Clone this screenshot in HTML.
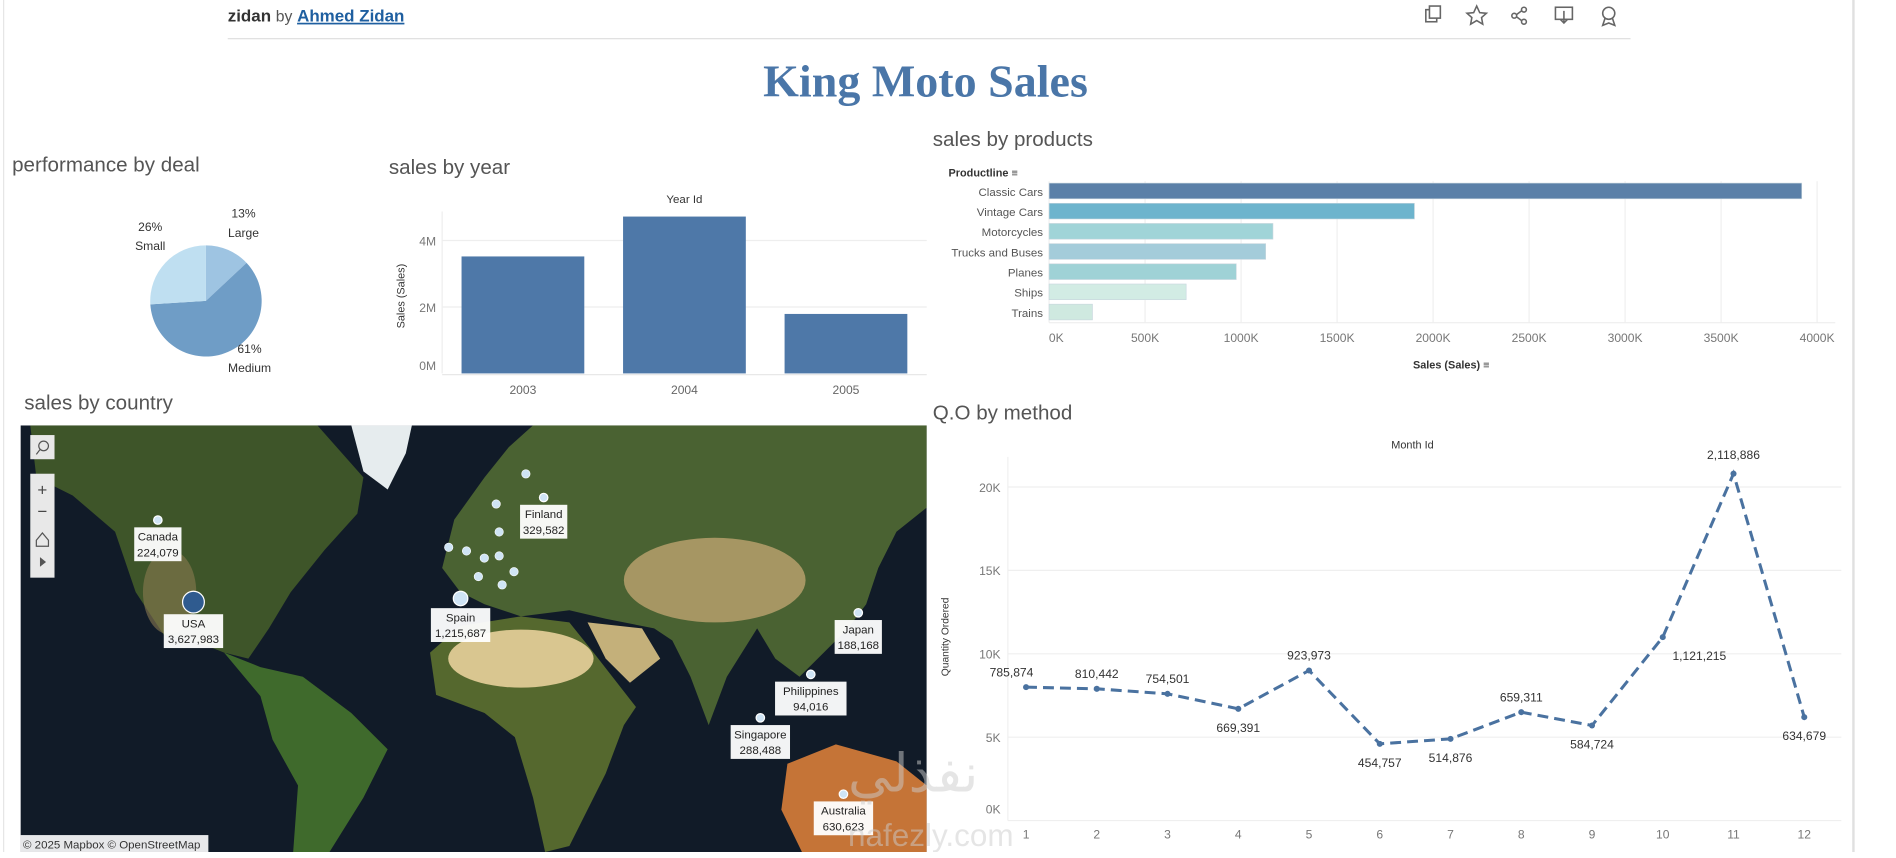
<!DOCTYPE html>
<html><head><meta charset="utf-8"><style>
html,body{margin:0;padding:0;background:#fff;overflow:hidden}
#wrap{position:absolute;left:0;top:0;width:1545px;height:705px;transform-origin:0 0;transform:scale(1.2114,1.2085);font-family:"Liberation Sans",sans-serif}
svg text{font-family:"Liberation Sans",sans-serif}
</style></head><body>
<div id="wrap">
<svg id="s" width="1545" height="705" viewBox="0 0 1545 705" xmlns="http://www.w3.org/2000/svg">
<line x1="3" y1="0" x2="3" y2="705" stroke="#e6e6e6"/>
<line x1="1530" y1="0" x2="1530" y2="705" stroke="#e0e0e0" stroke-width="2"/>
<text x="188" y="18" font-size="14" font-weight="bold" fill="#333">zidan <tspan font-weight="normal" fill="#555" font-size="13">by</tspan> <tspan fill="#1f5fa0" text-decoration="underline">Ahmed Zidan</tspan></text>
<line x1="188" y1="32" x2="1346" y2="32" stroke="#ddd"/>
<g fill="none" stroke="#666" stroke-width="1.3">
<rect x="1177" y="8" width="9" height="10"/><rect x="1180" y="5" width="9" height="10" fill="#fff"/>
<polygon points="1219,5 1221.5,10.5 1227,11 1223,14.5 1224,20 1219,17 1214,20 1215,14.5 1211,11 1216.5,10.5"/>
<g><circle cx="1250" cy="13" r="2"/><circle cx="1258" cy="8" r="2"/><circle cx="1258" cy="18" r="2"/><line x1="1252" y1="12" x2="1256" y2="9"/><line x1="1252" y1="14" x2="1256" y2="17"/></g>
<g><rect x="1284" y="6" width="14" height="10"/><line x1="1291" y1="9" x2="1291" y2="19"/><polyline points="1288,16 1291,19 1294,16"/></g>
<g><circle cx="1328" cy="11" r="5"/><polyline points="1325,15 1323,21 1328,19 1333,21 1331,15"/></g>
</g>
<text x="764" y="80" text-anchor="middle" font-size="38" font-weight="bold" fill="#4a76a8" style="font-family:'Liberation Serif',serif">King Moto Sales</text>

<text x="10" y="142" font-size="17" fill="#555">performance by deal</text>
<g id="pie"></g>

<text x="321" y="144" font-size="17" fill="#555">sales by year</text>
<g id="yr"></g>

<text x="770" y="121" font-size="17" fill="#555">sales by products</text>
<g id="pr"></g>

<text x="770" y="347" font-size="17" fill="#555">Q.O by method</text>
<g id="ln"></g>

<text x="20" y="339" font-size="17" fill="#555">sales by country</text>
<g>
<clipPath id="mc"><rect x="17" y="352" width="748" height="353"/></clipPath>
<g clip-path="url(#mc)">
<rect x="17" y="352" width="748" height="353" fill="#111b28"/>
<polygon fill="#3e5529" points="25,352 262,352 300,395 295,425 268,455 240,490 222,520 205,545 185,540 160,530 135,525 112,490 95,440 60,410 30,395"/>
<ellipse cx="140" cy="490" rx="22" ry="35" fill="#8a7a50" opacity="0.6"/>
<polygon fill="#e6ecee" points="290,352 340,352 335,375 320,405 300,390"/>
<polygon fill="#3f6a2c" points="185,540 215,552 250,560 290,590 320,620 300,660 272,705 242,705 246,650 225,612 215,576"/>
<polygon fill="#55682e" points="355,540 380,518 430,510 470,515 490,540 525,585 515,600 500,640 470,700 450,705 440,660 425,610 400,590 360,575"/>
<ellipse cx="430" cy="545" rx="60" ry="24" fill="#d9c690"/>
<polygon fill="#4a6232" points="365,470 375,430 400,395 420,370 440,352 765,352 765,420 740,440 725,470 715,500 700,520 680,540 660,560 640,545 625,520 600,560 585,600 570,560 555,530 540,520 500,512 470,505 430,510 400,500 380,490"/>
<ellipse cx="590" cy="480" rx="75" ry="35" fill="#b6a06c" opacity="0.85"/>
<polygon fill="#c4b07a" points="485,515 530,520 545,545 520,565 500,545"/>
<polygon fill="#c57437" points="650,632 690,616 740,630 765,650 765,705 662,705 645,670"/>
</g>
<g>
<rect x="25" y="360" width="20" height="20" fill="#e8e8e8"/>
<circle cx="36" cy="369" r="4" fill="none" stroke="#555"/><line x1="33" y1="372" x2="30" y2="376" stroke="#555"/>
<rect x="25" y="392" width="20" height="86" fill="#e8e8e8"/>
<text x="35" y="410" font-size="14" text-anchor="middle" fill="#444">+</text><text x="35" y="428" font-size="14" text-anchor="middle" fill="#444">−</text>
<path d="M30 447 L35 441 L40 447 L40 452 L30 452 Z" fill="none" stroke="#555"/>
<polygon points="33,461 38,465 33,469" fill="#555"/>
</g>
<g id="mk"></g>
<rect x="17" y="691" width="155" height="14" fill="#fff" opacity="0.9"/>
<text x="19" y="702" font-size="9.5" fill="#333">© 2025 Mapbox  © OpenStreetMap</text>
</g>
<text x="700" y="655" font-size="44" fill="#ccc" opacity="0.5" style="font-family:'DejaVu Sans',sans-serif">نفذلي</text>
<text x="700" y="700" font-size="26" fill="#ccc" opacity="0.5">nafezly.com</text>
</svg></div>
<script>
const NS="http://www.w3.org/2000/svg";
function mk(p,t,a,txt){const e=document.createElementNS(NS,t);for(const k in a)e.setAttribute(k,a[k]);if(txt!==undefined)e.textContent=txt;p.appendChild(e);return e;}

// ---- pie data
const dealNames=["Large","Medium","Small"];
const dealShares=[13,61,26];
const dealColors=["#9ec4e2","#6f9dc6","#bfdff1"];
// ---- year data
const years=["2003","2004","2005"];
const yearSales=[3.52,4.72,1.79];
const yearTicks=[0,2,4];
// ---- products data
const products=["Classic Cars","Vintage Cars","Motorcycles","Trucks and Buses","Planes","Ships","Trains"];
const productSales=[3920,1903,1166,1128,975,714,226];
const productColors=["#5b80a8","#6db4cd","#a0d4d8","#a4ccda","#9fd2d6","#d2ece4","#cfe9e0"];
const productTicks=[0,500,1000,1500,2000,2500,3000,3500,4000];
// ---- line data
const months=[1,2,3,4,5,6,7,8,9,10,11,12];
const qtyK=[8.0,7.9,7.6,6.7,9.0,4.6,4.9,6.5,5.7,11.0,20.8,6.2];
const monthLabels=["785,874","810,442","754,501","669,391","923,973","454,757","514,876","659,311","584,724","1,121,215","2,118,886","634,679"];
const labelPos=["up","up","up","down","up","down","down","up","down","right","up","down"];
const qtyTicks=[0,5,10,15,20];
// ---- map data
const countries=["Canada","USA","Finland","Spain","Japan","Philippines","Singapore","Australia"];
const countrySales=["224,079","3,627,983","329,582","1,215,687","188,168","94,016","288,488","630,623"];
const countryLon=[-106,-94,24,-4,130,114,97,125];
const countryLat=[58,39,62,40,36,16.5,1.3,-25];
const euroLon=[8,9,-2,4,2,9,14,10,18,-8];
const euroLat=[60.9,55.7,51.7,50.1,45.7,50.6,46.9,43.6,65.7,52.5];

// pie
(function(){const g=document.getElementById('pie');const cx=170,cy=249,r=46;let a=0;
const lab=[[201,180,"13%","Large"],[206,292,"61%","Medium"],[124,191,"26%","Small"]];
dealShares.forEach((v,i)=>{const a0=a,a1=a+v/100*2*Math.PI;a=a1;
const x0=cx+r*Math.sin(a0),y0=cy-r*Math.cos(a0),x1=cx+r*Math.sin(a1),y1=cy-r*Math.cos(a1);
const p=mk(g,'path',{d:`M${cx} ${cy}L${x0} ${y0}A${r} ${r} 0 ${a1-a0>Math.PI?1:0} 1 ${x1} ${y1}Z`,fill:dealColors[i]});


const t=mk(g,'text',{x:lab[i][0],y:lab[i][1],'font-size':10,'text-anchor':'middle',fill:'#333'},dealShares[i]+'%');


const t2=mk(g,'text',{x:lab[i][0],y:lab[i][1]+16,'font-size':10,'text-anchor':'middle',fill:'#333'},dealNames[i]);

});})();

// year bars
(function(){const g=document.getElementById('yr');const x0=365,x1=765,base=309,pxPer=27.5;
const y=v=>base-v*pxPer;const bw=(x1-x0)/years.length;
mk(g,'line',{x1:x0,y1:175,x2:x0,y2:base,stroke:'#eee'});
mk(g,'line',{x1:x0,y1:base+1,x2:x1,y2:base+1,stroke:'#e8e8e8'});
yearTicks.forEach(v=>{if(v>0)mk(g,'line',{x1:x0,y1:y(v),x2:x1,y2:y(v),stroke:'#eee'});
const t=mk(g,'text',{x:x0-5,y:(v==0?y(v)-3:y(v)+4),'font-size':10,'text-anchor':'end',fill:'#777'},v+'M');

});
years.forEach((yr,i)=>{const r=mk(g,'rect',{x:x0+i*bw+16,y:y(yearSales[i]),width:bw-32,height:base-y(yearSales[i]),fill:'#4e78a8'});


const t=mk(g,'text',{x:x0+i*bw+bw/2,y:326,'font-size':10,'text-anchor':'middle',fill:'#666'},yr);

});
const h=mk(g,'text',{x:565,y:168,'font-size':9.5,'text-anchor':'middle',fill:'#333'},'Year Id');


const at=mk(g,'text',{x:0,y:0,'font-size':9,'text-anchor':'middle',fill:'#333',transform:'translate(334,245) rotate(-90)'},'Sales (Sales)');

})();

// products
(function(){const g=document.getElementById('pr');const x0=866,x1=1500,top=150,bot=267;const x=v=>x0+v/4000*(x1-x0);
productTicks.forEach(v=>{mk(g,'line',{x1:x(v),y1:top,x2:x(v),y2:bot,stroke:'#efefef'});
const t=mk(g,'text',{x:x(v)+(v==0?6:0),y:283,'font-size':10,'text-anchor':'middle',fill:'#777'},v+'K');

});
mk(g,'line',{x1:x0,y1:bot,x2:1515,y2:bot,stroke:'#eee'});
const rh=16.7;
products.forEach((p,i)=>{const cy=158+i*rh;
const r=mk(g,'rect',{x:x0,y:cy-6.5,width:x(productSales[i])-x0,height:13,fill:productColors[i],stroke:'#c8d6de','stroke-width':0.5});


const t=mk(g,'text',{x:861,y:cy+4,'font-size':9.5,'text-anchor':'end',fill:'#555'},p);

});
const h=mk(g,'text',{x:783,y:146,'font-size':9,'font-weight':'bold',fill:'#333'},'Productline ≡');


const at=mk(g,'text',{x:1198,y:305,'font-size':9,'font-weight':'bold','text-anchor':'middle',fill:'#333'},'Sales (Sales) ≡');

})();

// line
(function(){const g=document.getElementById('ln');const x=m=>847+(m-1)*58.4;const y=v=>679-v*13.8;
mk(g,'line',{x1:832,y1:378,x2:832,y2:679,stroke:'#f0f0f0'});
qtyTicks.forEach(v=>{mk(g,'line',{x1:832,y1:y(v),x2:1520,y2:y(v),stroke:'#efefef'});
const t=mk(g,'text',{x:826,y:(v==0?y(v)-6:y(v)+4),'font-size':10,'text-anchor':'end',fill:'#777'},v+'K');

});
months.forEach(m=>{const t=mk(g,'text',{x:x(m),y:694,'font-size':10,'text-anchor':'middle',fill:'#777'},m);

});
const pl=mk(g,'polyline',{points:months.map((m,i)=>x(m)+','+y(qtyK[i])).join(' '),fill:'none',stroke:'#4a72a0','stroke-width':2.5,'stroke-dasharray':'9,5'});


months.forEach((m,i)=>{const c=mk(g,'circle',{cx:x(m),cy:y(qtyK[i]),r:2.5,fill:'#4a72a0'});


let lx=x(m),ly=y(qtyK[i]),an='middle';
if(labelPos[i]=='up'){ly-=9;if(i==0)lx-=12;}else if(labelPos[i]=='down'){ly+=19;}else{lx+=8;ly+=19;an='start';}
if(i==10)ly-=3;
const t=mk(g,'text',{x:lx,y:ly,'font-size':10,'text-anchor':an,fill:'#333'},monthLabels[i]);

});
const h=mk(g,'text',{x:1166,y:371,'font-size':9,'text-anchor':'middle',fill:'#333'},'Month Id');


const at=mk(g,'text',{x:0,y:0,'font-size':8.5,'text-anchor':'middle',fill:'#333',transform:'translate(783,527) rotate(-90)'},'Quantity Ordered');

})();

// map markers
(function(){const g=document.getElementById('mk');
const px=lon=>390+lon*2.45;
const py=lat=>{const r=Math.log(Math.tan(Math.PI/4+lat*Math.PI/360));return 597-r*133.4;};
euroLon.forEach((lo,i)=>{const c=mk(g,'circle',{cx:px(lo),cy:py(euroLat[i]),r:3.5,fill:'#cfe4f5',stroke:'#fff','stroke-width':0.5});

});
countries.forEach((n,i)=>{const cx=px(countryLon[i]),cy=py(countryLat[i]);const big=n=='USA';
const c=mk(g,'circle',{cx:cx,cy:cy,r:big?9:(n=='Spain'?6:3.5),fill:big?'#2f5b8f':'#cfe4f5',stroke:'#fff','stroke-width':1});


const w=Math.max(n.length,countrySales[i].length)*5+4;const ty=cy+(big?10:(n=='Spain'?8:6));
const b=mk(g,'rect',{x:cx-w/2,y:ty,width:w,height:28,fill:'#fff',opacity:0.95});


const t=mk(g,'text',{x:cx,y:ty+11,'font-size':9.5,'text-anchor':'middle',fill:'#222'},n);


const t2=mk(g,'text',{x:cx,y:ty+24,'font-size':9.5,'text-anchor':'middle',fill:'#222'},countrySales[i]);

});})();
</script>
</body></html>
